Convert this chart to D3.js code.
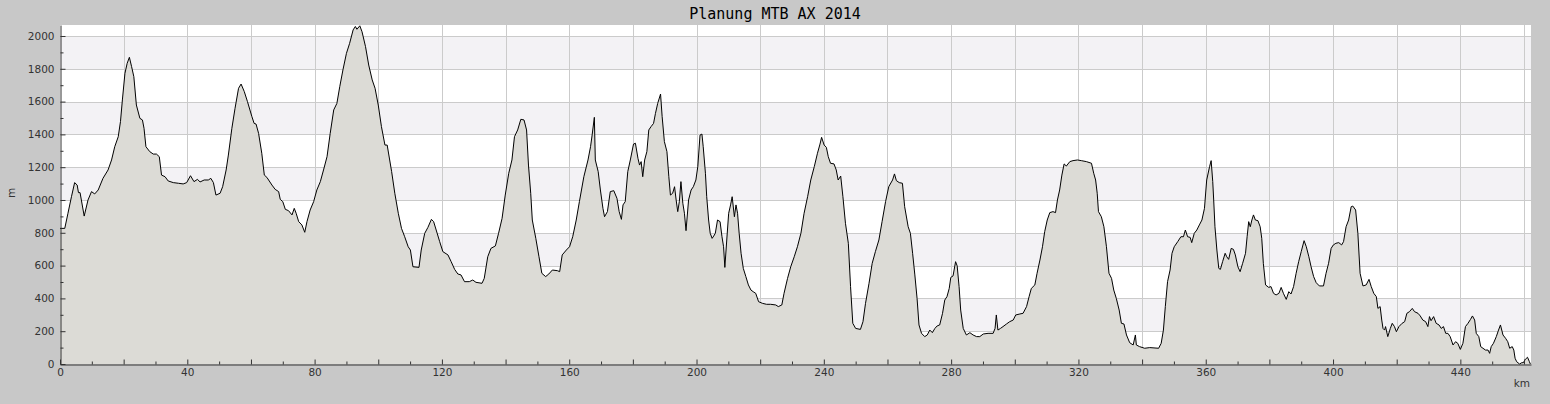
<!DOCTYPE html>
<html>
<head>
<meta charset="utf-8">
<script src="https://cdn.jsdelivr.net/npm/d3@7"></script>
<style>
  html, body { margin: 0; padding: 0; background: #c8c8c8; }
  svg { display: block; }
  .axis text { font-family: "DejaVu Sans", sans-serif; font-size: 10.5px; fill: #333; }
  .axis path, .axis line { stroke: #333; }
</style>
</head>
<body>
<svg id="chart" width="1550" height="404"></svg>
<script>
var title = "Planung MTB AX 2014";

// distance along the track (km) and elevation (m)
var km = [0, 1.5, 2.5, 3.6, 4.6, 5.4, 5.8, 6.3, 7.6, 8.8, 9.9, 10.9, 12.0, 13.5, 15.1, 16.2, 17.2, 18.3, 19.0, 19.6,
  20.4, 21.1, 21.8, 22.5, 23.2, 24.0, 25.1, 25.9, 26.4, 27.0, 28.2, 29.3, 30.3, 31.2, 31.9, 33.0, 34.0, 35.6, 37.2, 38.7,
  39.8, 41.0, 42.1, 43.2, 44.0, 45.3, 46.6, 47.4, 48.2, 49.0, 50.3, 51.1, 52.2, 52.9, 54.0, 55.0, 56.1, 56.9, 57.9, 58.9,
  60.3, 61.0, 61.6, 62.4, 63.4, 64.2, 65.0, 66.6, 67.6, 68.7, 69.2, 70.0, 70.8, 71.8, 72.9, 73.6, 74.2, 75.0, 76.0, 76.9,
  77.6, 78.6, 79.7, 80.7, 81.8, 82.8, 83.9, 84.9, 86.0, 87.0, 87.9, 88.9, 90.0, 91.0, 92.1, 92.8, 93.3, 94.2, 94.9, 96.0,
  97.0, 98.1, 99.0, 100.0, 101.0, 102.1, 102.8, 104.2, 105.2, 106.3, 107.3, 108.3, 109.4, 110.1, 110.9, 112.8, 113.5, 114.6, 115.6, 116.7,
  117.4, 118.2, 119.3, 120.3, 121.9, 122.9, 124.0, 125.0, 126.0, 127.1, 128.6, 129.7, 130.7, 132.6, 133.3, 134.4, 135.4, 136.8, 137.8, 138.9,
  139.9, 141.0, 142.0, 142.8, 143.8, 144.8, 145.8, 146.6, 147.2, 147.9, 148.4, 149.5, 150.5, 151.4, 152.6, 153.6, 154.7, 156.3, 157.0, 157.8,
  159.1, 160.1, 161.1, 162.2, 163.2, 164.6, 165.9, 166.7, 167.2, 167.9, 168.2, 169.1, 169.8, 170.6, 171.1, 172.0, 172.9, 174.0, 175.0, 175.7,
  176.4, 176.9, 177.6, 178.4, 179.2, 180.2, 180.8, 181.6, 182.1, 182.6, 183.1, 183.7, 184.4, 185.0, 185.7, 186.5, 187.1, 187.8, 188.7, 189.2,
  189.9, 190.7, 191.3, 191.8, 192.5, 193.1, 193.6, 194.1, 194.6, 195.1, 195.7, 196.2, 196.7, 197.5, 198.3, 199.0, 199.8, 200.4, 201.1, 201.7,
  202.1, 202.8, 203.2, 203.8, 204.3, 204.9, 205.4, 205.9, 206.6, 207.4, 208.0, 208.5, 208.9, 209.5, 210.1, 210.7, 211.2, 211.9, 212.4, 212.9,
  213.4, 214.0, 214.7, 215.5, 216.3, 217.1, 217.8, 218.6, 219.5, 220.7, 222.0, 223.3, 224.9, 225.7, 226.8, 227.5, 228.6, 229.6, 230.7, 231.7,
  232.8, 233.8, 234.9, 235.9, 237.0, 238.0, 238.8, 239.3, 240.1, 240.8, 241.4, 242.1, 243.2, 243.9, 244.5, 245.3, 246.0, 246.8, 247.7, 248.4,
  249.1, 250.0, 251.5, 252.3, 253.1, 254.2, 255.2, 256.2, 257.3, 258.3, 259.4, 260.4, 261.6, 262.2, 262.8, 263.7, 264.7, 265.4, 266.5, 267.2,
  267.9, 268.6, 269.3, 269.9, 270.7, 271.7, 272.5, 273.3, 274.1, 274.9, 275.6, 276.4, 277.3, 278.0, 278.7, 279.4, 279.9, 280.6, 281.4, 281.9,
  282.5, 283.0, 283.8, 284.8, 285.9, 286.9, 288.0, 289.0, 290.1, 291.6, 293.2, 293.8, 294.2, 294.7, 295.5, 296.3, 297.4, 298.4, 299.5, 300.3,
  301.6, 302.6, 303.7, 304.5, 305.2, 306.3, 307.0, 307.9, 308.7, 309.4, 310.2, 311.0, 312.0, 312.8, 313.4, 314.1, 314.8, 315.5, 316.2, 317.3,
  318.3, 319.7, 320.9, 322.5, 324.1, 324.8, 325.4, 325.9, 326.3, 327.2, 328.0, 328.8, 329.6, 330.4, 331.1, 331.9, 332.8, 333.5, 334.3, 335.1,
  336.1, 337.2, 337.9, 338.2, 339.2, 340.8, 342.4, 345.2, 346.0, 346.7, 347.3, 348.0, 348.8, 349.4, 350.1, 351.2, 352.2, 353.0, 353.6, 354.3,
  355.1, 355.6, 356.4, 357.2, 358.0, 358.8, 359.6, 360.3, 361.2, 361.7, 362.2, 362.5, 362.9, 363.5, 364.1, 364.6, 365.3, 366.1, 366.6, 367.2,
  368.0, 368.7, 369.3, 370.1, 370.8, 371.6, 372.5, 373.0, 373.5, 374.0, 374.5, 375.0, 375.6, 376.4, 377.1, 377.6, 378.1, 378.8, 379.8, 380.5,
  381.3, 382.1, 383.0, 383.7, 384.4, 385.3, 386.1, 386.8, 387.6, 388.4, 389.2, 390.0, 390.9, 391.6, 392.4, 393.1, 393.9, 394.7, 395.7, 397.0,
  397.8, 398.6, 399.4, 400.1, 400.9, 401.8, 402.7, 403.3, 404.1, 404.9, 405.7, 406.2, 407.1, 407.8, 408.5, 409.4, 410.4, 411.3, 412.0, 412.8,
  413.6, 414.1, 414.8, 415.3, 415.7, 416.2, 416.5, 417.2, 418.0, 418.6, 419.3, 419.9, 420.7, 421.7, 422.5, 423.2, 424.0, 424.9, 425.6, 426.7,
  427.4, 428.2, 429.1, 429.8, 430.3, 430.8, 431.6, 432.4, 433.3, 434.0, 434.7, 435.4, 436.1, 436.8, 437.7, 438.5, 439.2, 440.0, 440.8, 441.6,
  442.4, 443.2, 443.8, 444.5, 445.0, 445.8, 446.4, 447.1, 447.9, 448.7, 449.2, 449.7, 450.4, 451.3, 452.0, 452.6, 453.4, 454.2, 454.9, 455.5,
  456.3, 456.8, 457.2, 457.7, 458.6, 459.3, 459.8, 460.4, 461.1, 461.7, 462.0];

var elevation = [827, 827, 919, 1020, 1106, 1091, 1045, 1045, 902, 1000, 1051, 1037, 1061, 1132, 1183, 1244, 1325, 1386, 1478, 1610,
  1772, 1833, 1870, 1813, 1752, 1579, 1498, 1488, 1437, 1325, 1295, 1280, 1280, 1264, 1152, 1142, 1116, 1106, 1102, 1098,
  1106, 1148, 1112, 1126, 1110, 1122, 1122, 1132, 1106, 1030, 1041, 1081, 1183, 1274, 1437, 1559, 1681, 1707, 1661, 1600,
  1508, 1467, 1463, 1406, 1285, 1152, 1138, 1091, 1065, 1051, 1004, 990, 943, 935, 909, 949, 919, 868, 848, 803,
  868, 939, 990, 1061, 1112, 1183, 1264, 1406, 1549, 1589, 1691, 1793, 1894, 1955, 2037, 2058, 2041, 2062, 2026, 1935,
  1823, 1732, 1681, 1579, 1447, 1335, 1335, 1173, 1041, 919, 827, 776, 715, 695, 593, 589, 695, 797, 833, 882,
  868, 817, 746, 685, 665, 624, 577, 549, 543, 502, 502, 512, 498, 492, 522, 654, 705, 720, 797, 888,
  1030, 1163, 1244, 1386, 1427, 1492, 1488, 1427, 1213, 1041, 878, 766, 654, 553, 533, 549, 573, 569, 563, 665,
  695, 715, 776, 878, 990, 1142, 1244, 1325, 1396, 1504, 1244, 1173, 1061, 949, 898, 929, 1051, 1057, 1010, 929,
  882, 970, 990, 1173, 1244, 1341, 1346, 1254, 1213, 1234, 1142, 1244, 1295, 1427, 1447, 1467, 1528, 1589, 1646, 1508,
  1356, 1295, 1142, 1030, 1041, 1081, 1000, 929, 990, 1112, 980, 919, 813, 1000, 1061, 1081, 1122, 1203, 1396, 1402,
  1325, 1163, 1020, 878, 797, 766, 780, 797, 878, 868, 776, 715, 589, 756, 919, 970, 1020, 898, 970, 919,
  797, 675, 583, 533, 482, 451, 441, 431, 380, 370, 364, 364, 360, 350, 360, 431, 522, 593, 654, 715,
  797, 919, 1020, 1122, 1203, 1285, 1341, 1382, 1335, 1321, 1264, 1224, 1220, 1183, 1122, 1146, 1020, 858, 736, 472,
  248, 217, 211, 258, 370, 492, 614, 685, 756, 868, 990, 1081, 1122, 1159, 1118, 1106, 1102, 959, 837, 797,
  675, 543, 400, 238, 187, 167, 177, 207, 191, 217, 232, 238, 309, 390, 411, 461, 528, 537, 624, 598,
  472, 329, 217, 177, 191, 177, 167, 167, 183, 187, 187, 217, 299, 207, 217, 228, 244, 258, 268, 299,
  305, 309, 350, 411, 461, 482, 553, 634, 715, 807, 878, 923, 929, 923, 1000, 1061, 1152, 1220, 1207, 1234,
  1240, 1244, 1240, 1234, 1224, 1163, 1122, 1041, 929, 898, 837, 715, 553, 522, 451, 400, 329, 248, 244, 177,
  130, 116, 177, 116, 106, 96, 100, 96, 126, 207, 350, 502, 573, 675, 715, 746, 776, 776, 817, 776,
  772, 740, 797, 817, 848, 878, 949, 1122, 1203, 1240, 1112, 1000, 837, 695, 583, 577, 624, 675, 654, 638,
  705, 699, 665, 593, 563, 614, 675, 776, 868, 837, 878, 909, 878, 874, 837, 766, 614, 482, 467, 472,
  431, 421, 431, 467, 431, 394, 441, 427, 472, 553, 624, 685, 752, 715, 654, 593, 533, 496, 476, 476,
  553, 614, 705, 726, 736, 740, 726, 746, 837, 878, 959, 963, 939, 797, 553, 476, 482, 516, 472, 431,
  411, 339, 350, 268, 217, 207, 228, 167, 217, 248, 228, 197, 228, 248, 258, 309, 319, 339, 319, 309,
  293, 268, 258, 228, 289, 264, 289, 248, 238, 217, 228, 187, 187, 167, 116, 136, 126, 89, 126, 228,
  248, 272, 293, 268, 187, 167, 106, 96, 85, 85, 65, 106, 126, 167, 207, 238, 177, 157, 136, 96,
  106, 85, 35, 14, 0, 8, 8, 28, 41, 14, 0];

var yTicks = d3.range(0, 2001, 200);
var yMinor = d3.range(100, 2001, 200);
var xTicks = d3.range(0, 461, 20);
var xMinor = d3.range(10, 461, 20);

var data = km.map(function(d, i){ return {km: d, m: elevation[i]}; });

var plotLeft = 60, plotRight = 1531, plotTop = 25, plotBottom = 364;
var svg = d3.select("#chart");

var x = d3.scaleLinear().domain([0, 462.2]).range([plotLeft, plotRight]);
var y = d3.scaleLinear().domain([0, 2067]).range([plotBottom, plotTop]);

// plot background with alternating bands
svg.append("rect").attr("x", plotLeft).attr("y", plotTop)
  .attr("width", plotRight - plotLeft).attr("height", plotBottom - plotTop).attr("fill", "#ffffff");
svg.selectAll(".band").data(d3.range(200, 2067, 400)).enter().append("rect")
  .attr("class", "band")
  .attr("x", plotLeft).attr("width", plotRight - plotLeft)
  .attr("y", function(d){ return Math.round(y(Math.min(d + 200, 2067))); })
  .attr("height", function(d){ return Math.round(y(d)) - Math.round(y(Math.min(d + 200, 2067))); })
  .attr("fill", "#f3f2f5");

// grid
svg.selectAll(".hgrid").data(yTicks.slice(1)).enter().append("line")
  .attr("x1", plotLeft).attr("x2", plotRight)
  .attr("y1", function(d){ return Math.round(y(d)) + 0.5; })
  .attr("y2", function(d){ return Math.round(y(d)) + 0.5; })
  .attr("stroke", "#cbcbcb");
svg.selectAll(".vgrid").data(xTicks.slice(1)).enter().append("line")
  .attr("y1", plotTop).attr("y2", plotBottom)
  .attr("x1", function(d){ return Math.round(x(d)) + 0.5; })
  .attr("x2", function(d){ return Math.round(x(d)) + 0.5; })
  .attr("stroke", "#cbcbcb");

// profile
var area = d3.area().x(function(d){ return x(d.km); }).y0(plotBottom).y1(function(d){ return y(d.m); });
var line = d3.line().x(function(d){ return x(d.km); }).y(function(d){ return y(d.m); });
svg.append("path").datum(data).attr("d", area).attr("fill", "#dcdbd6");
svg.append("path").datum(data).attr("d", line).attr("fill", "none").attr("stroke", "#000").attr("stroke-width", 1);

// axes
svg.append("g").attr("class", "axis").attr("transform", "translate(" + (plotLeft + 0.5) + ",0)")
  .call(d3.axisLeft(y).tickValues(yTicks).tickSizeInner(-5).tickSizeOuter(0).tickPadding(6).tickFormat(d3.format("d")));
svg.append("g").attr("class", "axis").attr("transform", "translate(" + (plotLeft + 0.5) + ",0)")
  .call(d3.axisLeft(y).tickValues(yMinor).tickSizeInner(-3).tickSizeOuter(0).tickFormat(""))
  .select(".domain").remove();

svg.append("g").attr("class", "axis").attr("transform", "translate(0," + (plotBottom + 0.5) + ")")
  .call(d3.axisBottom(x).tickValues(xTicks).tickSizeInner(-5).tickSizeOuter(0).tickPadding(4)
    .tickFormat(function(d){ return d % 40 === 0 ? d : ""; }));
svg.append("g").attr("class", "axis").attr("transform", "translate(0," + (plotBottom + 0.5) + ")")
  .call(d3.axisBottom(x).tickValues(xMinor).tickSizeInner(-3).tickSizeOuter(0).tickFormat(""))
  .select(".domain").remove();

// titles
svg.append("text").attr("x", 775).attr("y", 19).attr("text-anchor", "middle")
  .style("font-family", "'DejaVu Sans Mono', monospace").style("font-size", "15px").attr("fill", "#000")
  .text(title);
svg.append("text").attr("transform", "translate(15,193) rotate(-90)").attr("text-anchor", "middle")
  .style("font-family", "'DejaVu Sans', sans-serif").style("font-size", "10.5px").attr("fill", "#333").text("m");
svg.append("text").attr("x", 1530).attr("y", 387).attr("text-anchor", "end")
  .style("font-family", "'DejaVu Sans', sans-serif").style("font-size", "10.5px").attr("fill", "#333").text("km");
</script>
</body>
</html>
